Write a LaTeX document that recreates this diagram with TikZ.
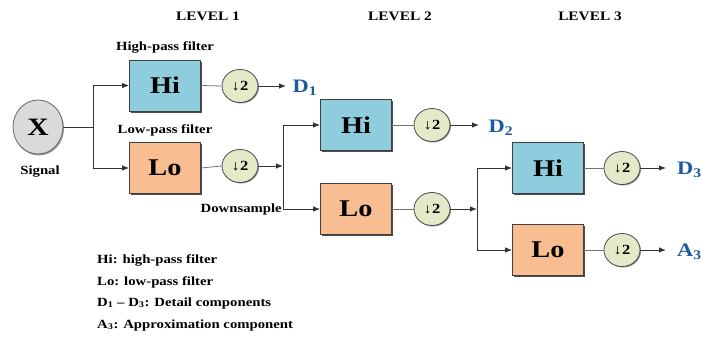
\documentclass[tikz,border=0pt]{standalone}
\usepackage{fontspec}
\setmainfont{Liberation Serif}[FakeStretch=1.18]
\usetikzlibrary{shapes.geometric,arrows.meta,shadows}
\definecolor{hiblue}{RGB}{142,205,222}
\definecolor{loorange}{RGB}{248,190,145}
\definecolor{dsgreen}{RGB}{226,234,200}
\definecolor{xgray}{RGB}{218,218,218}
\definecolor{dblue}{RGB}{28,92,158}
\begin{document}
\begin{tikzpicture}[x=1pt,y=-1pt,
  filt/.style={draw=black!75,line width=0.8pt,minimum width=71pt,minimum height=51pt,inner sep=0pt,
    font=\fontsize{24}{26}\selectfont\bfseries,
    drop shadow={shadow xshift=1.6pt,shadow yshift=-1.6pt,fill=black!70,opacity=1}},
  hibox/.style={filt,fill=hiblue},
  lobox/.style={filt,fill=loorange},
  ds/.style={ellipse,draw=black!70,line width=0.8pt,fill=dsgreen,minimum width=36pt,minimum height=33pt,inner sep=0pt,
    font=\fontsize{14}{15}\selectfont\bfseries,
    drop shadow={shadow xshift=1pt,shadow yshift=-1pt,fill=black!45,opacity=1}},
  lbl/.style={font=\fontsize{12.5}{14}\selectfont\bfseries,inner sep=0pt},
  lvl/.style={font=\fontsize{13}{14}\selectfont\bfseries,inner sep=0pt},
  outl/.style={font=\fontsize{19}{20}\selectfont\bfseries,text=dblue,inner sep=0pt},
  conn/.style={draw=black!80,line width=0.9pt},
  arr/.style={conn,-{Latex[length=7pt,width=5.5pt]}},
  thin/.style={draw=black!55,line width=0.8pt}]
\useasboundingbox (0,0) rectangle (702,337);
\fill[white] (0,0) rectangle (702,337);

% level labels
\node[lvl] (l1) at (208,16) {LEVEL 1};
\node[lvl] (l2) at (400,16) {LEVEL 2};
\node[lvl] (l3) at (590,16) {LEVEL 3};

% signal
\node[ellipse,draw=black!60,line width=0.8pt,fill=xgray,minimum width=50pt,minimum height=54pt,inner sep=0pt,
  font=\fontsize{25}{26}\selectfont\bfseries,
  drop shadow={shadow xshift=1pt,shadow yshift=-1.5pt,fill=black!40,opacity=1}] (x) at (38,127) {X};
\node[lbl] (sig) at (40,172) {Signal};

% level 1
\node[hibox] (h1) at (165,85.5) {Hi};
\node[lobox] (lo1) at (165,168) {Lo};
\node[lbl] (hpf) at (165,47) {High-pass filter};
\node[lbl] (lpf) at (165,130) {Low-pass filter};
\node[ds] (dh1) at (240,86) {↓2};
\node[ds] (dl1) at (240,166) {↓2};
\node[outl] (d1) at (305,88) {D\textsubscript{1}};
\coordinate (s0) at (93,127);
\coordinate (s0a) at (93,85.5);
\coordinate (s0b) at (93,168);
\draw[conn] (x.east) -- (s0);
\draw[arr] (s0) -- (s0a) -- (h1.west);
\draw[arr] (s0) -- (s0b) -- (lo1.west);
\draw[thin] (h1.east) -- (dh1.west);
\draw[thin] (lo1.east) -- (dl1.west);
\coordinate (d1e) at (286,86);
\draw[arr] (dh1.east) -- (d1e);

% level 2
\node[hibox] (h2) at (356,125) {Hi};
\node[lobox] (lo2) at (356,209) {Lo};
\node[ds] (dh2) at (432,125) {↓2};
\node[ds] (dl2) at (432,209) {↓2};
\node[outl] (d2) at (501,128) {D\textsubscript{2}};
\node[lbl,anchor=east] (dsl) at (282,209) {Downsample};
\coordinate (s1) at (283,166);
\coordinate (s1a) at (283,125);
\coordinate (s1b) at (283,209);
\draw[arr] (dl1.east) -- (s1);
\draw[conn] (s1a) -- (s1b);
\draw[arr] (s1a) -- (h2.west);
\draw[arr] (s1b) -- (lo2.west);
\draw[thin] (h2.east) -- (dh2.west);
\draw[thin] (lo2.east) -- (dl2.west);
\coordinate (d2e) at (479,125);
\draw[arr] (dh2.east) -- (d2e);

% level 3
\node[hibox] (h3) at (548,168) {Hi};
\node[lobox] (lo3) at (548,250) {Lo};
\node[ds] (dh3) at (622,168) {↓2};
\node[ds] (dl3) at (622,250) {↓2};
\node[outl,anchor=west] (d3) at (677,170) {D\textsubscript{3}};
\node[outl,anchor=west] (a3) at (677,252) {A\textsubscript{3}};
\coordinate (s2) at (477,209);
\coordinate (s2a) at (477,168);
\coordinate (s2b) at (477,250);
\draw[arr] (dl2.east) -- (s2);
\draw[conn] (s2a) -- (s2b);
\draw[arr] (s2a) -- (h3.west);
\draw[arr] (s2b) -- (lo3.west);
\draw[thin] (h3.east) -- (dh3.west);
\draw[thin] (lo3.east) -- (dl3.west);
\coordinate (d3e) at (666,168);
\coordinate (a3e) at (666,250);
\draw[arr] (dh3.east) -- (d3e);
\draw[arr] (dl3.east) -- (a3e);

% legend
\node[lbl,anchor=west] (g1) at (97,260) {Hi: high-pass filter};
\node[lbl,anchor=west] (g2) at (97,282) {Lo: low-pass filter};
\node[lbl,anchor=west] (g3) at (97,303) {D\textsubscript{1} -- D\textsubscript{3}: Detail components};
\node[lbl,anchor=west] (g4) at (97,325) {A\textsubscript{3}: Approximation component};
\end{tikzpicture}
\end{document}
